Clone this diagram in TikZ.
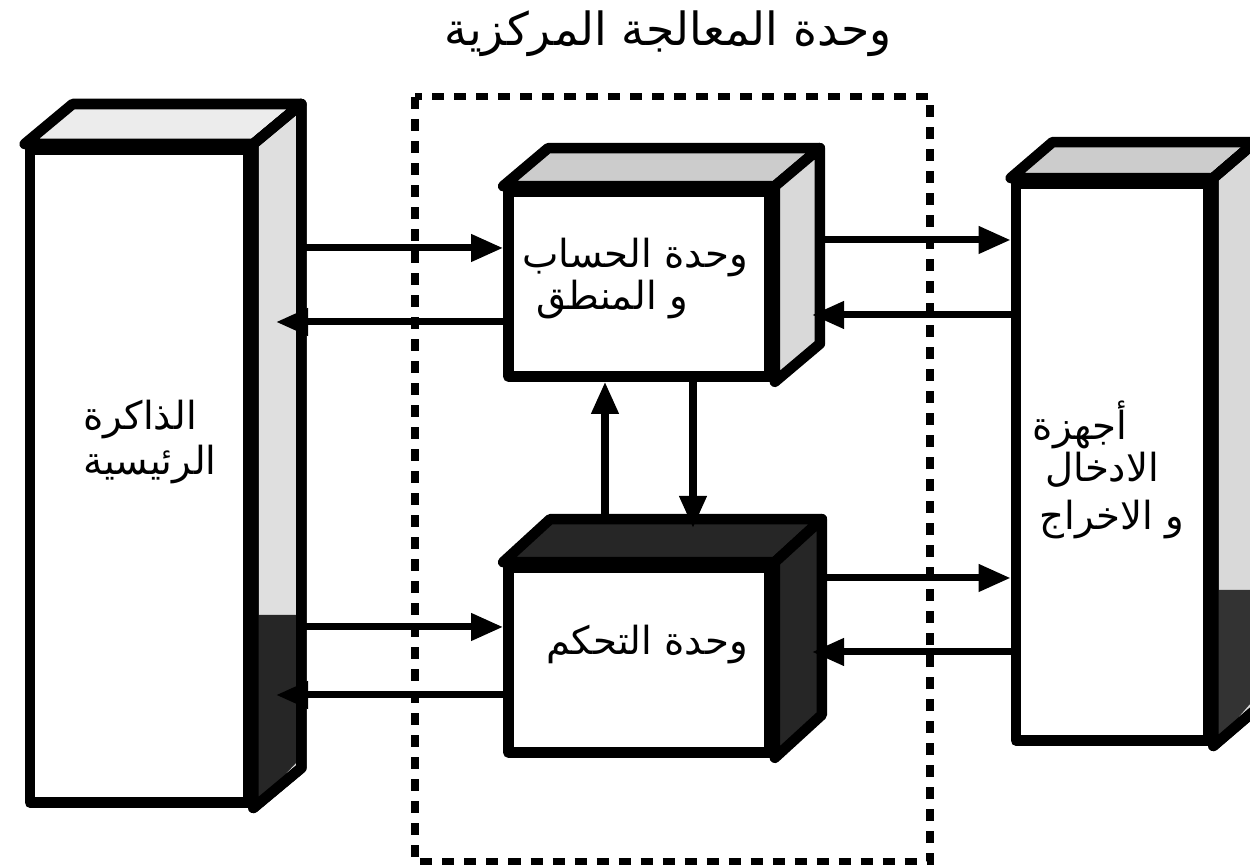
\documentclass[tikz,border=0pt]{standalone}
\usepackage{fontspec}
\newfontfamily\arabicfont[Script=Arabic]{DejaVu Sans}
\TeXXeTstate=1
\usetikzlibrary{arrows.meta}

\tikzset{
  face/.style={draw, line width=3pt, line join=round, fill=white, inner sep=0pt},
  link/.style={line width=2pt},
  arr/.style={link, -{Triangle[length=0.32cm,width=0.26cm]}},
  cpu/.style={line width=2pt, dash pattern=on 0.12cm off 0.1cm},
  lbl/.style={font=\arabicfont\fontsize{11}{13}\selectfont, inner sep=0pt},
}

\begin{document}
\begin{tikzpicture}[x=0.01cm, y=-0.01cm]
  \useasboundingbox (0,0) rectangle (1250,868);

  % central processing unit
  \draw[cpu] (415,97) rectangle (930,862);

  % front faces
  \node[face, minimum width=2.18cm, minimum height=6.53cm] (mem) at (139,476) {};
  \node[face, minimum width=2.61cm, minimum height=1.85cm] (alu) at (639,284) {};
  \node[face, minimum width=2.61cm, minimum height=1.85cm] (ctl) at (639,660) {};
  \node[face, minimum width=1.92cm, minimum height=5.57cm] (io) at (1112,462) {};

  % top and side faces
  \foreach \b/\dx/\dy/\tc/\sc in {mem/48/40/gray!15/gray!25, alu/45/38/gray!40/gray!30,
                                  ctl/47/43/black!85/black!85, io/42/36/gray!40/gray!30} {
    \draw[face, fill=\tc] (\b.north west) -- ++(\dx,-\dy)
      -- ([shift={(\dx,-\dy)}]\b.north east) -- (\b.north east) -- cycle;
    \draw[face, fill=\sc] (\b.north east) -- ++(\dx,-\dy)
      -- ([shift={(\dx,-\dy)}]\b.south east) -- (\b.south east) -- cycle;
  }
  % darker lower part of the side faces
  \fill[black!85] (248,615) -- (296,615) -- (296,763) -- (mem.south east) -- cycle;
  \draw[line width=3pt, line join=round] (mem.north east) -- ++(48,-40)
    -- ([shift={(48,-40)}]mem.south east) -- (mem.south east) -- cycle;
  \fill[black!80] (1208,590) -- (1250,590) -- (1250,704) -- (io.south east) -- cycle;
  \draw[line width=3pt, line join=round] (io.north east) -- ++(42,-36)
    -- ([shift={(42,-36)}]io.south east) -- (io.south east) -- cycle;

  % lanes
  \coordinate (m1) at (296,248);
  \coordinate (m2) at (276,322);
  \coordinate (m3) at (296,627);
  \coordinate (m4) at (276,695);
  \coordinate (a1) at (815,240);
  \coordinate (a2) at (812,315);
  \coordinate (c1) at (817,578);
  \coordinate (c2) at (812,652);
  \coordinate (v1) at (605,524);
  \coordinate (v2) at (693,528);

  \draw[arr] (m1) -- (m1 -| alu.west);
  \draw[arr] (alu.west |- m2) -- (m2);
  \draw[arr] (m3) -- (m3 -| ctl.west);
  \draw[arr] (ctl.west |- m4) -- (m4);
  \draw[arr] (a1) -- (a1 -| io.west);
  \draw[arr] (io.west |- a2) -- (a2);
  \draw[arr] (c1) -- (c1 -| io.west);
  \draw[arr] (io.west |- c2) -- (c2);
  \draw[arr] (v1) -- (v1 |- alu.south);
  \draw[arr] (v2 |- alu.south) -- (v2);

  % labels
  \node[lbl, font=\arabicfont\fontsize{13}{15}\selectfont] (title) at (668,34) {\beginR وحدة المعالجة المركزية\endR};
  \node[lbl] (alut1) at (635,258) {\beginR وحدة الحساب\endR};
  \node[lbl] (alut2) at (612,300) {\beginR و المنطق\endR};
  \node[lbl] (ctlt) at (647,645) {\beginR وحدة التحكم\endR};
  \node[lbl] (memt1) at (140,420) {\beginR الذاكرة\endR};
  \node[lbl] (memt2) at (150,465) {\beginR الرئيسية\endR};
  \node[lbl] (iot1) at (1080,425) {\beginR أجهزة\endR};
  \node[lbl] (iot2) at (1102,470) {\beginR الادخال\endR};
  \node[lbl] (iot3) at (1112,520) {\beginR و الاخراج\endR};
\end{tikzpicture}
\end{document}
